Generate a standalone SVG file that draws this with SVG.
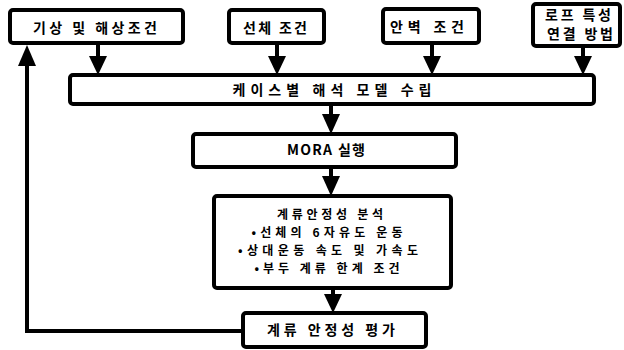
<svg xmlns="http://www.w3.org/2000/svg" width="624" height="350" viewBox="0 0 624 350">
<style>
.box{fill:#fff;stroke:#000;stroke-width:4}
.t{font-family:"Noto Sans CJK KR","Noto Sans",sans-serif;font-size:14px;font-weight:bold;fill:#000;text-anchor:middle;dominant-baseline:central}
.s{font-size:12px}
.c{fill:none;stroke:#000;stroke-width:4}
.h{fill:#000}
</style>
<rect width="624" height="350" fill="#fff"/>
<g id="connectors">
<line class="c" x1="98" y1="45" x2="98" y2="60"/><polygon class="h" points="89,56 107,56 98,75"/>
<line class="c" x1="277" y1="45" x2="277" y2="60"/><polygon class="h" points="268,56 286,56 277,75"/>
<line class="c" x1="432" y1="45" x2="432" y2="60"/><polygon class="h" points="423,56 441,56 432,75"/>
<line class="c" x1="583" y1="48" x2="583" y2="60"/><polygon class="h" points="574,56 592,56 583,75"/>
<line class="c" x1="331" y1="106" x2="331" y2="118"/><polygon class="h" points="322,114 340,114 331,134"/>
<line class="c" x1="331" y1="169" x2="331" y2="180"/><polygon class="h" points="322,176 340,176 331,196"/>
<line class="c" x1="333" y1="290" x2="333" y2="298"/><polygon class="h" points="324,294 342,294 333,313"/>
<polyline class="c" points="243,331 27,331 27,62"/><polygon class="h" points="18,66 36,66 27,45"/>
</g>
<g id="n1"><rect class="box" x="10" y="10" width="173" height="33" rx="3"/><text class="t" x="95" y="27" textLength="124" lengthAdjust="spacing">기상 및 해상조건</text></g>
<g id="n2"><rect class="box" x="229" y="10" width="95" height="33" rx="3"/><text class="t" x="275" y="27" textLength="64" lengthAdjust="spacing">선체 조건</text></g>
<g id="n3"><rect class="box" x="383" y="9" width="96" height="34" rx="3"/><text class="t" x="427" y="26" textLength="74" lengthAdjust="spacing">안벽 조건</text></g>
<g id="n4"><rect class="box" x="533" y="4" width="87" height="42" rx="3"/><text class="t" x="578" y="14" textLength="66" lengthAdjust="spacing">로프 특성</text><text class="t" x="580" y="33" textLength="66" lengthAdjust="spacing">연결 방법</text></g>
<g id="n5"><rect class="box" x="70" y="75" width="524" height="29" rx="3"/><text class="t" x="332" y="89" textLength="199" lengthAdjust="spacing">케이스별 해석 모델 수립</text></g>
<g id="n6"><rect class="box" x="193" y="134" width="263" height="33" rx="3"/><text class="t" x="326" y="149" textLength="78" lengthAdjust="spacing">MORA 실행</text></g>
<g id="n7"><rect class="box" x="214" y="196" width="237" height="92" rx="3"/>
<text class="t s" x="330" y="213" textLength="106" lengthAdjust="spacing">계류안정성 분석</text>
<text class="t s" x="327" y="231" textLength="151" lengthAdjust="spacing">•선체의 6자유도 운동</text>
<text class="t s" x="328" y="249" textLength="180" lengthAdjust="spacing">•상대운동 속도 및 가속도</text>
<text class="t s" x="327" y="267" textLength="145" lengthAdjust="spacing">•부두 계류 한계 조건</text></g>
<g id="n8"><rect class="box" x="243" y="313" width="183" height="34" rx="3"/><text class="t" x="331" y="329" textLength="128" lengthAdjust="spacing">계류 안정성 평가</text></g>
</svg>
